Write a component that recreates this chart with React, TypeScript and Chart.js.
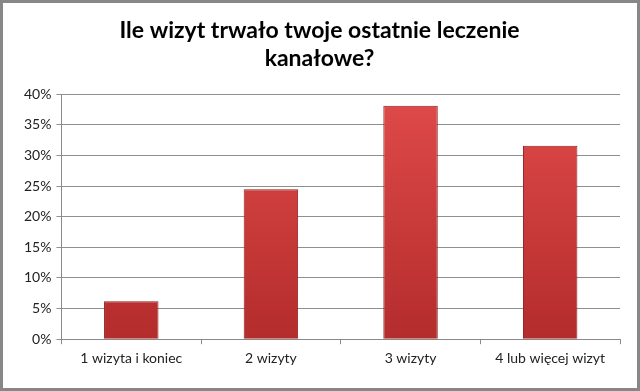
import React, { useEffect, useRef } from "react";
import { Chart, registerables } from "chart.js";

Chart.register(...registerables);

const categories = ["1 wizyta i koniec", "2 wizyty", "3 wizyty", "4 lub więcej wizyt"];
const values = [6.2, 24.5, 38.1, 31.6];
const titleLines = ["Ile wizyt trwało twoje ostatnie leczenie", "kanałowe?"];

const framePlugin = {
  id: "frame",
  afterDraw(chart: any) {
    const ctx = chart.ctx;
    ctx.save();
    ctx.strokeStyle = "#878787";
    ctx.lineWidth = 3;
    ctx.strokeRect(1.5, 1.5, chart.width - 3, chart.height - 3);
    ctx.restore();
  },
};

export default function App() {
  const ref = useRef<HTMLCanvasElement>(null);
  useEffect(() => {
    document.body.style.margin = "0";
    const chart = new Chart(ref.current!, {
      type: "bar",
      data: {
        labels: categories,
        datasets: [
          {
            data: values,
            backgroundColor: (c: any) => {
              const area = c.chart.chartArea;
              if (!area) return "#d33c3c";
              const g = c.chart.ctx.createLinearGradient(0, area.top, 0, area.bottom);
              g.addColorStop(0, "#e04a4a");
              g.addColorStop(1, "#b42c2c");
              return g;
            },
            borderColor: "#8e1f1f",
            borderWidth: 1,
            barPercentage: 0.39,
            categoryPercentage: 1,
          },
        ],
      },
      options: {
        animation: false,
        responsive: false,
        layout: { padding: { left: 19, right: 20, top: 8, bottom: 18 } },
        plugins: {
          legend: { display: false },
          tooltip: { enabled: false },
          title: {
            display: true,
            text: titleLines,
            color: "#000",
            font: { family: "Lato", size: 23, weight: "bold" },
            lineHeight: 1.45,
            padding: { top: 9, bottom: 22 },
          },
        },
        scales: {
          x: {
            grid: { drawOnChartArea: false, drawTicks: true, tickLength: 5, color: "#8a8a8a" },
            border: { color: "#8a8a8a" },
            ticks: { color: "#222", font: { family: "Lato", size: 14 }, padding: 6 },
          },
          y: {
            min: 0,
            max: 40,
            ticks: {
              stepSize: 5,
              color: "#222",
              font: { family: "Lato", size: 14 },
              padding: 5,
              callback: (v: any) => v + "%",
            },
            grid: { color: "#8f8f8f", tickLength: 5 },
            border: { color: "#8a8a8a" },
          },
        },
      },
      plugins: [framePlugin],
    });
    return () => chart.destroy();
  }, []);
  return <canvas ref={ref} width={640} height={391} style={{ display: "block" }} />;
}
